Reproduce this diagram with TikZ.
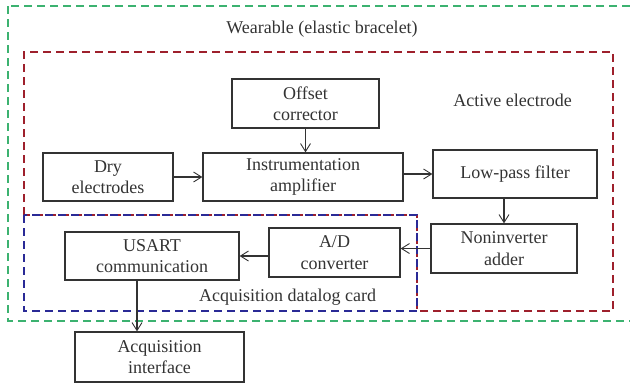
\documentclass[tikz,border=0pt]{standalone}
\usepackage{fontspec}
\setmainfont{Liberation Serif}
\usetikzlibrary{arrows.meta,calc}
\definecolor{inkgray}{RGB}{51,51,51}
\definecolor{weargreen}{RGB}{60,178,112}
\definecolor{activered}{RGB}{158,32,44}
\definecolor{cardblue}{RGB}{42,42,150}
\tikzset{
  block/.style={draw=inkgray, line width=1.3pt, inner sep=0pt, align=center,
    text=inkgray, font=\fontsize{18}{21.5}\selectfont},
  caption/.style={text=inkgray, inner sep=0pt, font=\fontsize{18}{21.5}\selectfont},
  flow/.style={draw=inkgray, line width=1.1pt, -{Straight Barb[length=8pt,width=10pt,line width=0.9pt]}},
  region/.style={line width=1.4pt, dash pattern=on 8pt off 5pt}
}
\begin{document}
\begin{tikzpicture}[x=1pt,y=-1pt]
  \useasboundingbox (0,0) rectangle (630,383);
  \clip (0,0) rectangle (630,383);

  % enclosing regions
  \draw[region, weargreen] (8,6) rectangle (680,321);
  \draw[region, activered] (24,215) -- (24,52) -- (613,52) -- (613,311) -- (417,311) -- (417,215) -- cycle;
  \draw[region, cardblue] (24,215) rectangle (417,311);

  % region captions
  \node[caption] (wearcap) at (322,29) {Wearable (elastic bracelet)};
  \node[caption] (activecap) at (512.5,100) {Active electrode};
  \node[caption] (cardcap) at (287.5,297) {Acquisition datalog card};

  % processing blocks
  \node[block, minimum width=147pt, minimum height=49pt] (off) at (305.5,103.5) {Offset\\corrector};
  \node[block, minimum width=130pt, minimum height=48pt] (dry) at (108,177) {Dry\\electrodes};
  \node[block, minimum width=200pt, minimum height=48pt] (ia) at (303,177) {Instrumentation\\amplifier};
  \node[block, minimum width=164pt, minimum height=48pt] (lpf) at (515,174) {Low-pass filter};
  \node[block, minimum width=146pt, minimum height=49pt] (nia) at (504,248.5) {Noninverter\\adder};
  \node[block, minimum width=131pt, minimum height=49pt] (adc) at (334.5,252.5) {A/D\\converter};
  \node[block, minimum width=174pt, minimum height=48pt] (usart) at (152,256) {USART\\communication};
  \node[block, minimum width=169pt, minimum height=50pt] (acq) at (159.5,357) {Acquisition\\interface};

  % signal flow
  \draw[flow] (off.south) -- (off.south |- ia.north);
  \draw[flow] (dry.east) -- (dry.east -| ia.west);
  \draw[flow] (lpf.west -| ia.east) -- (lpf.west);
  \draw[flow] (lpf.south -| nia.north) -- (nia.north);
  \draw[flow] (nia.west) -- (nia.west -| adc.east);
  \draw[flow] (usart.east -| adc.west) -- (usart.east);
  \coordinate (usartout) at ($(usart.south)+(-15,0)$);
  \draw[flow] (usartout) -- (usartout |- acq.north);
\end{tikzpicture}
\end{document}
